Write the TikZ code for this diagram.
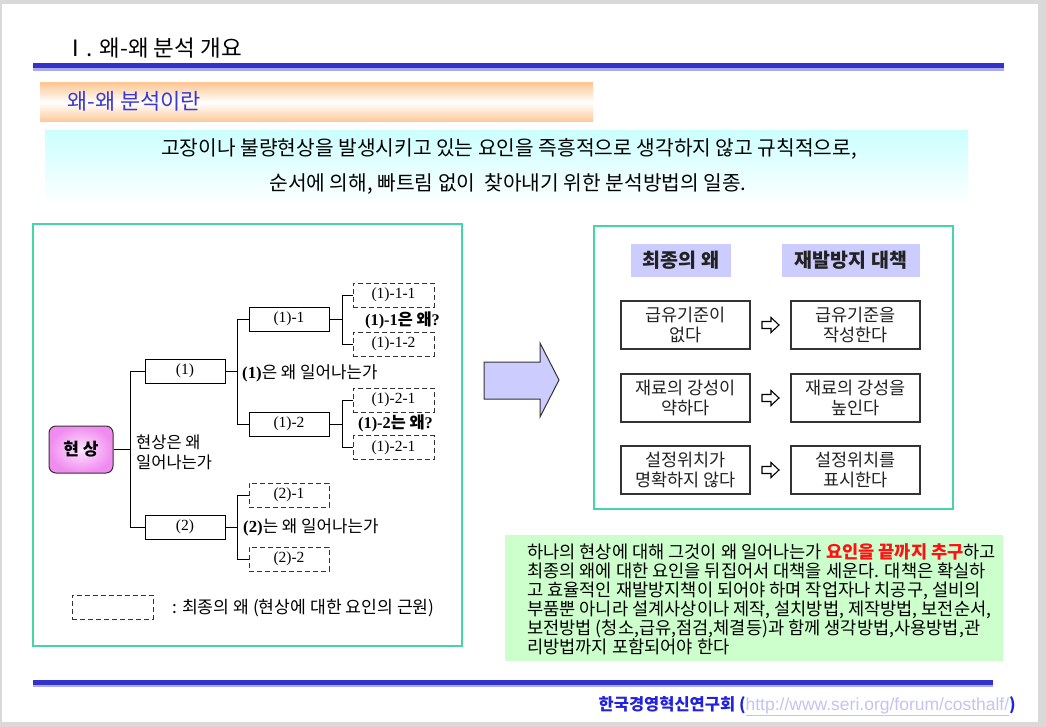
\documentclass[tikz,border=0pt]{standalone}
\usepackage{fontspec}
\setmainfont{Noto Sans CJK KR}
\newfontfamily\ser{Liberation Serif}
\newfontfamily\lsans{Liberation Sans}
\definecolor{pagegray}{HTML}{D9D9D9}
\definecolor{blueD}{HTML}{3333CC}
\definecolor{blueL}{HTML}{AAAAEE}
\definecolor{peach}{HTML}{FDC896}
\definecolor{subblue}{HTML}{3A3AD0}
\definecolor{cyanL}{HTML}{CCFFFF}
\definecolor{frameteal}{HTML}{44D6A6}
\definecolor{lav}{HTML}{CCCCFF}
\definecolor{greenL}{HTML}{CCFFCC}
\definecolor{fblue}{HTML}{2222DD}
\definecolor{urlc}{HTML}{C4C4F0}
\definecolor{pinkI}{HTML}{FFE4FF}
\definecolor{pinkO}{HTML}{F08CF0}
\definecolor{boxgray}{HTML}{333333}
\definecolor{txtgray}{HTML}{222222}
\definecolor{redT}{HTML}{FF1111}
\tikzset{
  fs/.style={font=\fontsize{#1}{24}\selectfont},
  solidbox/.style={draw=black, line width=0.9pt, minimum width=80pt, minimum height=24pt, inner sep=0pt, font=\ser\fontsize{15.5}{16}\selectfont},
  dashbox/.style={draw=boxgray, line width=0.9pt, dash pattern=on 5pt off 3pt, minimum width=81pt, minimum height=24pt, inner sep=0pt, font=\ser\fontsize{15.5}{16}\selectfont},
  wire/.style={draw=black, line width=0.9pt},
  frame/.style={draw=frameteal, line width=1.5pt, inner sep=0pt},
  causebox/.style={draw=boxgray, line width=1.5pt, minimum width=129pt, minimum height=48pt, inner sep=0pt, align=center, text=txtgray, font=\fontsize{17.5}{20}\selectfont},
  headbox/.style={fill=lav, minimum height=33pt, inner sep=0pt, font=\bfseries\fontsize{19.5}{20}\selectfont, text=txtgray},
  treelabel/.style={anchor=west, inner sep=0pt, font=\fontsize{16.8}{20}\selectfont},
  hollowarrow/.style={draw=black, line width=1.1pt, fill=white},
}
\begin{document}
\begin{tikzpicture}[x=1pt,y=-1pt]
\useasboundingbox (0,0) rectangle (1046,727);
\fill[pagegray] (0,0) rectangle (1046,727);
\fill[white] (2,4) rectangle (1038,722);

% title and rule
\node[anchor=west, inner sep=0pt, fs=22.5] (title) at (64,48) {Ⅰ. 왜-왜 분석 개요};
\fill[blueD] (33,63.5) rectangle (1004,68);
\fill[blueL] (33,68) rectangle (1004,70.8);

% subtitle bar
\shade[top color=peach, bottom color=peach, middle color=white] (40,83) rectangle (593,122);
\node[anchor=west, inner sep=0pt, fs=22, text=subblue] (sub) at (67,101) {왜-왜 분석이란};

% definition banner
\shade[top color=cyanL, bottom color=white] (45,131) rectangle (968,205);
\node[inner sep=0pt, fs=20.3] (def1) at (509,149) {고장이나 불량현상을 발생시키고 있는 요인을 즉흥적으로 생각하지 않고 규칙적으로,};
\node[inner sep=0pt, fs=20.3] (def2) at (508,184) {순서에 의해, 빠트림 없이\ \ 찾아내기 위한 분석방법의 일종.};

% left frame
\node[frame, minimum width=429pt, minimum height=422pt] (lframe) at (247.5,435) {};

% tree nodes
\node[draw=boxgray, line width=1pt, rounded corners=7pt, minimum width=64pt, minimum height=47pt, inner sep=0pt,
      shading=radial, inner color=pinkI, outer color=pinkO, font=\bfseries\fontsize{17}{20}\selectfont] (hs) at (81,449.5) {현\ 상};
\node[solidbox] (n1) at (185,371) {(1)};
\node[solidbox] (n2) at (185,527) {(2)};
\node[solidbox] (n11) at (289,319) {(1)-1};
\node[solidbox] (n12) at (289,424) {(1)-2};
\node[dashbox, minimum width=80pt] (n21) at (289,495) {(2)-1};
\node[dashbox, minimum width=80pt] (n22) at (289,559) {(2)-2};
\node[dashbox] (n111) at (393.5,295) {(1)-1-1};
\node[dashbox] (n112) at (393.5,344) {(1)-1-2};
\node[dashbox] (n121) at (393.5,400) {(1)-2-1};
\node[dashbox] (n122) at (393.5,447.5) {(1)-2-1};
\node[dashbox] (leg) at (112.5,607) {};

\coordinate (t0) at (130,0);
\coordinate (t1) at (237,0);
\coordinate (t2) at (342,0);

\draw[wire] (hs.east) -- (hs.east -| t0);
\draw[wire] (n1.west) -- (n1.west -| t0) -- (n2.west -| t0) -- (n2.west);
\draw[wire] (n1.east) -- (n1.east -| t1);
\draw[wire] (n11.west) -- (n11.west -| t1) -- (n12.west -| t1) -- (n12.west);
\draw[wire] (n2.east) -- (n2.east -| t1);
\draw[wire] (n21.west) -- (n21.west -| t1) -- (n22.west -| t1) -- (n22.west);
\draw[wire] (n11.east) -- (n11.east -| t2);
\draw[wire] (n111.west) -- (n111.west -| t2) -- (n112.west -| t2) -- (n112.west);
\draw[wire] (n12.east) -- (n12.east -| t2);
\draw[wire] (n121.west) -- (n121.west -| t2) -- (n122.west -| t2) -- (n122.west);

\node[treelabel, align=left, font=\fontsize{16.5}{20}\selectfont] (lab0) at (136,452) {현상은 왜\\일어나는가};
\node[treelabel] (lab1) at (242,373) {{\ser\bfseries (1)}은 왜 일어나는가};
\node[treelabel] (lab2) at (243,527) {{\ser\bfseries (2)}는 왜 일어나는가};
\node[treelabel, font=\bfseries\fontsize{16.3}{18}\selectfont] (lab11) at (365,320) {{\ser (1)-1}은 왜{\ser ?}};
\node[treelabel, font=\bfseries\fontsize{16.3}{18}\selectfont] (lab12) at (358,423) {{\ser (1)-2}는 왜{\ser ?}};
\node[treelabel, font=\fontsize{17.2}{20}\selectfont] (legtxt) at (172,608) {: 최종의 왜 (현상에 대한 요인의 근원)};

% big arrow
\draw[draw=boxgray, line width=1pt, fill=lav, line join=miter] (484,362) -- (540,362) -- (540,343) -- (559,380) -- (540,417) -- (540,399) -- (484,399) -- cycle;

% right frame
\node[frame, minimum width=359pt, minimum height=283pt] (rframe) at (773.5,367.5) {};
\node[headbox, minimum width=100pt] (h1) at (681,260.5) {최종의 왜};
\node[headbox, minimum width=138pt] (h2) at (851,260.5) {재발방지 대책};

\node[causebox] (c1) at (685.5,325) {급유기준이\\없다};
\node[causebox] (c2) at (685.5,398) {재료의 강성이\\약하다};
\node[causebox] (c3) at (685.5,470) {설정위치가\\명확하지 않다};
\node[causebox] (r1) at (855.5,325) {급유기준을\\작성한다};
\node[causebox] (r2) at (855.5,398) {재료의 강성을\\높인다};
\node[causebox] (r3) at (855.5,470) {설정위치를\\표시한다};

\foreach \a/\b in {c1/r1,c2/r2,c3/r3}{
  \path (\a.east) -- (\b.west) coordinate[pos=0.5] (m\a);
  \draw[hollowarrow, line join=miter] ([shift={(-8.5,-3.5)}]m\a) -- ++(9,0) -- ++(0,-4) -- ++(8,7.5) -- ++(-8,7.5) -- ++(0,-4) -- ++(-9,0) -- cycle;
}

% explanation box
\fill[greenL] (505,535) rectangle (1003,661);
\node[anchor=north west, inner sep=0pt, align=left, font=\fontsize{17.6}{19}\selectfont] (expl) at (527,543) {%
하나의 현상에 대해 그것이 왜 일어나는가 {\color{redT}\bfseries 요인을 끝까지 추구}하고\\
최종의 왜에 대한 요인을 뒤집어서 대책을 세운다. 대책은 확실하\\
고 효율적인 재발방지책이 되어야 하며 작업자나 치공구, 설비의\\
부품뿐 아니라 설계사상이나 제작, 설치방법, 제작방법, 보전순서,\\
보전방법 (청소,급유,점검,체결등)과 함께 생각방법,사용방법,관\\
리방법까지 포함되어야 한다};

% footer
\fill[blueD] (33,680) rectangle (993,684.5);
\fill[blueL] (33,684.5) rectangle (993,686.8);
\node[anchor=east, inner sep=0pt, font=\fontsize{16.5}{18}\selectfont] (foot) at (1016,706) {{\color{fblue}\bfseries 한국경영혁신연구회 (}{\lsans\fontsize{17.5}{18}\selectfont\color{urlc}\underline{http://www.seri.org/forum/costhalf/}}{\color{fblue}\bfseries )}};
\end{tikzpicture}
\end{document}
